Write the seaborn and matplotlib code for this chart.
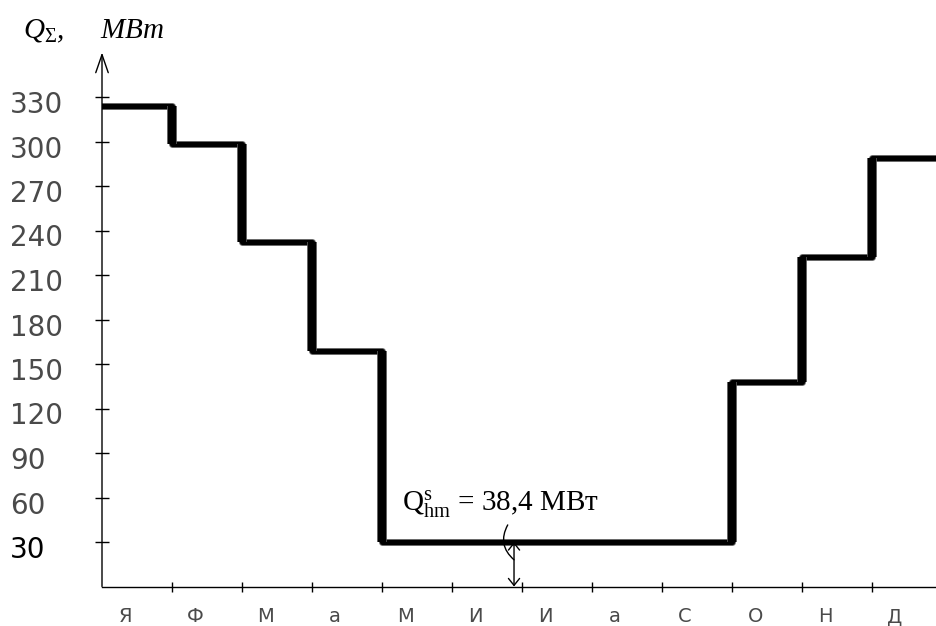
import numpy as np
import pandas as pd
import matplotlib
matplotlib.use('Agg')
import matplotlib.pyplot as plt
import matplotlib.patheffects as pe
import matplotlib.transforms as mtransforms
import seaborn as sns

# Monthly total heat load, MW
months = ['Я', 'Ф', 'М', 'а', 'М', 'И', 'И', 'а', 'С', 'О', 'Н', 'Д']
q_sum = [324, 298, 232, 159, 30, 30, 30, 30, 30, 138, 222, 289]
y_ticks = [30, 60, 90, 120, 150, 180, 210, 240, 270, 300, 330]
y_label = r'$Q_{\Sigma}$,     МВт'
hm_label = r'$\mathrm{Q}_{\mathrm{hm}}^{\mathrm{s}}$ = 38,4 МВт'
hm_month = 5.886   # where the summer-load arrow sits

sns.set_theme(style='white')
plt.rcParams['mathtext.fontset'] = 'custom'
plt.rcParams['mathtext.rm'] = 'Liberation Serif'
plt.rcParams['mathtext.it'] = 'Liberation Serif:italic'
plt.rcParams['mathtext.bf'] = 'Liberation Serif:bold'

# steps-post needs the last value repeated at the end of december
df = pd.DataFrame({'month': np.arange(len(q_sum) + 1), 'q': q_sum + q_sum[-1:]})

fig = plt.figure(figsize=(9.37, 6.26), dpi=100)
ax = fig.add_axes([102 / 937, 39.5 / 626, 835 / 937, 534 / 626])

shadow = [pe.Stroke(linewidth=5, foreground='#666666'), pe.Normal()]
sns.lineplot(data=df, x='month', y='q', drawstyle='steps-post', color='black',
             lw=3.6, ax=ax, legend=False, path_effects=shadow)

# the risers are drawn heavier than the flat parts
q = np.array(q_sum)
jump = q[:-1] != q[1:]
bounds = np.arange(1, len(q_sum))[jump]
ax.vlines(bounds, np.minimum(q[:-1], q[1:])[jump], np.maximum(q[:-1], q[1:])[jump],
          colors='black', lw=6, path_effects=[pe.Stroke(linewidth=7, foreground='#666666'), pe.Normal()])

ax.set_xlim(0, 835 / 70)
ax.set_ylim(0, 360)
ax.set_xlabel('')
ax.set_ylabel('')

for s in ['top', 'right', 'left']:
    ax.spines[s].set_visible(False)
ax.spines['bottom'].set_color('black')
ax.spines['bottom'].set_linewidth(1)

# y axis drawn as an arrow
ax.annotate('', xy=(0, 360), xytext=(0, 0), xycoords='data',
            arrowprops=dict(arrowstyle='->,head_length=1.3,head_width=0.45', lw=1,
                            color='black', shrinkA=0, shrinkB=0, mutation_scale=10),
            annotation_clip=False)

ax.set_xticks(np.arange(1, 12))
ax.set_xticklabels([])
ax.set_yticks(y_ticks)
ax.set_yticklabels([])
ax.tick_params(axis='y', direction='inout', length=9.4, width=1, color='black', left=True)
ax.tick_params(axis='x', direction='inout', length=6.5, width=1, color='black', bottom=True)

# y tick labels, left aligned and sitting a bit below their ticks
ytrans = mtransforms.offset_copy(mtransforms.blended_transform_factory(ax.transAxes, ax.transData),
                                 fig=fig, x=0, y=-8, units='dots')
for v in y_ticks:
    ax.text(-92 / 835, v, str(v), transform=ytrans, ha='left', va='center',
            fontsize=20, family='DejaVu Sans', color='black' if v == 30 else '#4a4a4a',
            clip_on=False)

# month letters under the axis
xtrans = mtransforms.offset_copy(mtransforms.blended_transform_factory(ax.transData, ax.transAxes),
                                 fig=fig, x=0, y=-30, units='dots')
for i, m in enumerate(months):
    ax.text(i + 0.33, 0, m, transform=xtrans, ha='center', va='center',
            fontsize=14, family='DejaVu Sans', color='#4a4a4a', clip_on=False)

# summer load note
ax.text(4.286, 51, hm_label, fontsize=21, family='Liberation Serif', va='baseline', ha='left',
        color='black')
ax.annotate('', xy=(hm_month, 0), xytext=(hm_month, q_sum[5]),
            arrowprops=dict(arrowstyle='<->,head_length=0.5,head_width=0.4', lw=1,
                            color='black', shrinkA=0, shrinkB=0, mutation_scale=10))
ax.annotate('', xy=(hm_month, 18), xytext=(hm_month - 0.09, 41.5),
            arrowprops=dict(arrowstyle='-', connectionstyle='arc3,rad=0.4', lw=1,
                            color='black', shrinkA=0, shrinkB=0))

fig.text(23 / 937, 1 - 38 / 626, y_label, fontsize=21, family='Liberation Serif',
         style='italic', va='baseline', ha='left', color='black')

plt.savefig('out.png', dpi=100)
